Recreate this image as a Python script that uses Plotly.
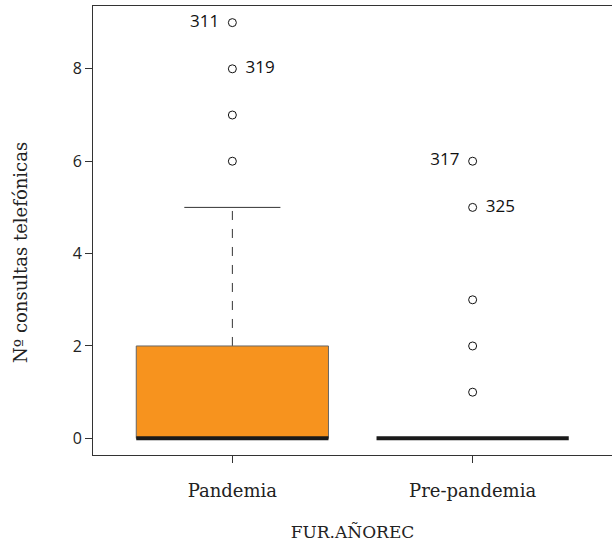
import plotly.graph_objects as go

categories = ["Pandemia", "Pre-pandemia"]
q1 = [0, 0]
median = [0, 0]
q3 = [2, 0]
whisker_low = [0, 0]
whisker_high = [5, 0]
outliers = [[6, 7, 8, 9], [1, 2, 3, 5, 6]]
outlier_labels = [["", "", "319", "311"], ["", "", "", "325", "317"]]
label_sides = [["", "", "right", "left"], ["", "", "", "right", "left"]]

ytick_vals = [0, 2, 4, 6, 8]
x_title = "FUR.AÑOREC"
y_title = "Nº consultas telefónicas"

BOX_HALF = 0.4
CAP_HALF = 0.2
SERIF = "DejaVu Serif, serif"
SANS = "Open Sans, Lato, sans-serif"
fig = go.Figure()

for i, cat in enumerate(categories):
    xc = i + 1
    fig.add_trace(go.Scatter(x=[xc, xc], y=[q3[i], whisker_high[i]], mode="lines",
                             line=dict(color="#333333", width=1, dash="dash"),
                             showlegend=False, hoverinfo="skip"))
    fig.add_trace(go.Scatter(x=[xc, xc], y=[whisker_low[i], q1[i]], mode="lines",
                             line=dict(color="#333333", width=1, dash="dash"),
                             showlegend=False, hoverinfo="skip"))
    if whisker_high[i] > q3[i]:
        fig.add_trace(go.Scatter(x=[xc - CAP_HALF, xc + CAP_HALF], y=[whisker_high[i]] * 2,
                                 mode="lines", line=dict(color="#333333", width=1),
                                 showlegend=False, hoverinfo="skip"))
    if q3[i] > q1[i]:
        fig.add_trace(go.Scatter(x=[xc - BOX_HALF, xc + BOX_HALF, xc + BOX_HALF, xc - BOX_HALF, xc - BOX_HALF],
                                 y=[q1[i], q1[i], q3[i], q3[i], q1[i]],
                                 mode="lines", fill="toself", fillcolor="#F7931E",
                                 line=dict(color="#666666", width=1),
                                 showlegend=False, hoverinfo="skip"))
    fig.add_trace(go.Scatter(x=[xc - BOX_HALF, xc + BOX_HALF], y=[median[i]] * 2,
                             mode="lines", line=dict(color="#1a1a1a", width=4),
                             showlegend=False, hoverinfo="skip"))
    fig.add_trace(go.Scatter(x=[xc] * len(outliers[i]), y=outliers[i], mode="markers",
                             marker=dict(symbol="circle-open", size=8, color="#111111",
                                         line=dict(width=1)),
                             showlegend=False))
    for side in ["left", "right"]:
        ys = [y for y, l, s in zip(outliers[i], outlier_labels[i], label_sides[i]) if l and s == side]
        ts = [l for y, l, s in zip(outliers[i], outlier_labels[i], label_sides[i]) if l and s == side]
        if ys:
            fig.add_trace(go.Scatter(x=[xc] * len(ys), y=ys, mode="text", text=["   " + t + "   " for t in ts],
                                     textposition="middle " + side,
                                     textfont=dict(family=SANS, size=17, color="#111111"),
                                     showlegend=False, hoverinfo="skip"))

fig.add_annotation(text=y_title, textangle=-90, xref="paper", yref="paper",
                   x=-0.1407, y=0.452, xanchor="center", yanchor="middle", showarrow=False,
                   font=dict(family=SERIF, size=18, color="#222222"))

fig.update_layout(
    width=612, height=547,
    margin=dict(l=93, r=0, t=6, b=92),
    plot_bgcolor="white", paper_bgcolor="white",
    xaxis=dict(range=[0.42, 2.58], tickvals=[1, 2], ticktext=categories,
               showgrid=False, zeroline=False, showline=True, mirror=True,
               linecolor="#333333", linewidth=1, ticks="outside", ticklen=7,
               tickcolor="#333333", ticklabelstandoff=12,
               tickfont=dict(family=SERIF, size=18, color="#222222"),
               title=dict(text=x_title, standoff=26,
                          font=dict(family=SERIF, size=17, color="#222222"))),
    yaxis=dict(range=[-0.36, 9.36], tickvals=ytick_vals,
               showgrid=False, zeroline=False, showline=True, mirror=True,
               linecolor="#333333", linewidth=1, ticks="outside", ticklen=7,
               tickcolor="#333333",
               tickfont=dict(family=SANS, size=16, color="#222222")),
)

fig.write_html("out.html", config={"displayModeBar": False},
               post_script="document.body.style.margin='0';document.body.style.overflow='hidden';")
